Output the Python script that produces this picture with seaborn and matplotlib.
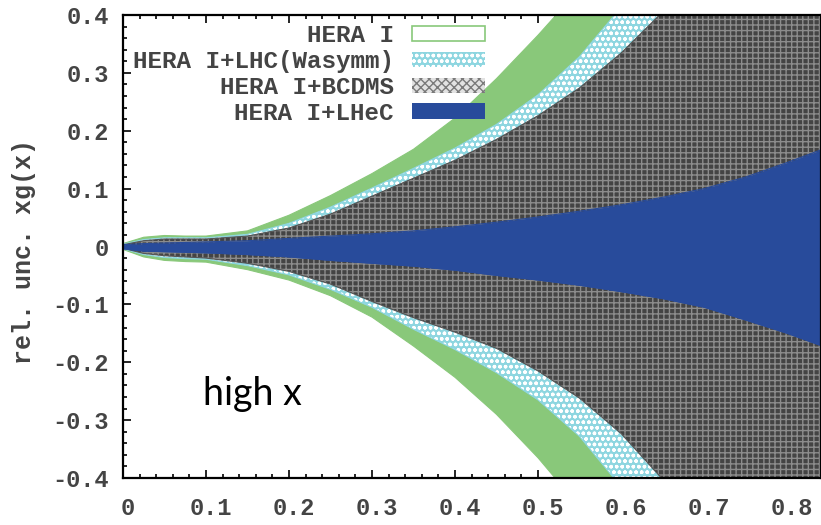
import numpy as np
import pandas as pd
import matplotlib
matplotlib.use("Agg")
import matplotlib.pyplot as plt
import matplotlib.transforms as mtransforms
import seaborn as sns
from matplotlib.patches import Patch
from matplotlib.ticker import MultipleLocator, FixedLocator, FixedFormatter

# momentum fraction x
x = [0.0, 0.025, 0.05, 0.075, 0.1, 0.15, 0.2, 0.25, 0.3, 0.35, 0.4,
     0.45, 0.5, 0.55, 0.6, 0.65, 0.7, 0.75, 0.8, 0.85]

# relative uncertainty bands of xg(x): upper / lower edges
hera_up = [0.005, 0.016, 0.019, 0.018, 0.018, 0.027, 0.054, 0.088, 0.126, 0.168,
           0.222, 0.29, 0.365, 0.445, 0.53, 0.62, 0.71, 0.81, 0.91, 1.01]
hera_lo = [-0.005, -0.018, -0.024, -0.026, -0.027, -0.04, -0.058, -0.085, -0.122, -0.172,
           -0.226, -0.29, -0.365, -0.45, -0.54, -0.63, -0.72, -0.82, -0.92, -1.02]
lhc_up = [0.004, 0.012, 0.015, 0.015, 0.015, 0.021, 0.04, 0.068, 0.101, 0.135,
          0.17, 0.211, 0.262, 0.328, 0.413, 0.51, 0.61, 0.71, 0.82, 0.93]
lhc_lo = [-0.004, -0.014, -0.019, -0.021, -0.022, -0.033, -0.049, -0.074, -0.105, -0.143,
          -0.178, -0.218, -0.265, -0.328, -0.415, -0.52, -0.62, -0.72, -0.83, -0.94]
bcdms_up = [0.003, 0.010, 0.013, 0.013, 0.013, 0.018, 0.032, 0.056, 0.087, 0.118,
            0.149, 0.185, 0.226, 0.274, 0.334, 0.405, 0.49, 0.58, 0.68, 0.78]
bcdms_lo = [-0.003, -0.012, -0.016, -0.018, -0.02, -0.029, -0.043, -0.065, -0.095, -0.123,
            -0.148, -0.176, -0.215, -0.262, -0.323, -0.402, -0.49, -0.58, -0.68, -0.78]
lhec_up = [0.003, 0.005, 0.006, 0.007, 0.008, 0.01, 0.014, 0.018, 0.022, 0.027,
           0.034, 0.042, 0.051, 0.061, 0.072, 0.085, 0.1, 0.12, 0.145, 0.172]
lhec_lo = [-0.004, -0.008, -0.009, -0.010, -0.011, -0.014, -0.018, -0.024, -0.029, -0.034,
           -0.041, -0.05, -0.058, -0.067, -0.078, -0.09, -0.105, -0.127, -0.15, -0.176]

labels = ["HERA I", "HERA I+LHC(Wasymm)", "HERA I+BCDMS", "HERA I+LHeC"]

x_ticks = [0.0, 0.1, 0.2, 0.3, 0.4, 0.5, 0.6, 0.7, 0.8]
x_tick_labels = ["0", "0.1", "0.2", "0.3", "0.4", "0.5", "0.6", "0.7", "0.8"]
y_ticks = [-0.4, -0.3, -0.2, -0.1, 0.0, 0.1, 0.2, 0.3, 0.4]
y_tick_labels = ["-0.4", "-0.3", "-0.2", "-0.1", "0", "0.1", "0.2", "0.3", "0.4"]

sns.set_theme(style="ticks")
plt.rcParams.update({
    "font.family": ["Liberation Mono", "DejaVu Sans"],
    "font.weight": "bold",
    "axes.unicode_minus": False,
    "hatch.linewidth": 1.0,
    "axes.linewidth": 1.6,
    "axes.edgecolor": "black",
})

# long-form table of band edges
frames = []
for name, up, lo in zip(labels, [hera_up, lhc_up, bcdms_up, lhec_up],
                        [hera_lo, lhc_lo, bcdms_lo, lhec_lo]):
    frames.append(pd.DataFrame({"x": x, "up": up, "lo": lo, "set": name}))
df = pd.concat(frames, ignore_index=True)

GREEN = "#89c87a"
CYAN = "#8ed6e0"
GRAY = "#444444"
BLUE = "#284b9b"
TEXT = "#444444"

styles = {
    "HERA I": dict(facecolor=GREEN, edgecolor=GREEN, hatch=None, line=GREEN),
    "HERA I+LHC(Wasymm)": dict(facecolor=CYAN, edgecolor="white", hatch="ooo", line=CYAN),
    "HERA I+BCDMS": dict(facecolor=GRAY, edgecolor="#8c8c8c", hatch="+++", line="#555555"),
    "HERA I+LHeC": dict(facecolor=BLUE, edgecolor=BLUE, hatch=None, line=BLUE),
}

fig = plt.figure(figsize=(8.21, 5.25), dpi=100)
ax = fig.add_axes([123 / 821, 47 / 525, 698 / 821, 463 / 525])

for z, name in enumerate(labels):
    d = df[df["set"] == name]
    st = styles[name]
    ax.fill_between(d["x"], d["lo"], d["up"], facecolor=st["facecolor"],
                    edgecolor=st["edgecolor"], hatch=st["hatch"], linewidth=0,
                    zorder=1 + z)
    sns.lineplot(data=d, x="x", y="up", color=st["line"], lw=0.8, ax=ax,
                 zorder=1 + z + 0.5)
    sns.lineplot(data=d, x="x", y="lo", color=st["line"], lw=0.8, ax=ax,
                 zorder=1 + z + 0.5)

ax.set_xlim(0, 0.841)
ax.set_ylim(-0.4, 0.4)
ax.xaxis.set_major_locator(FixedLocator(x_ticks))
ax.xaxis.set_major_formatter(FixedFormatter(x_tick_labels))
ax.yaxis.set_major_locator(FixedLocator(y_ticks))
ax.yaxis.set_major_formatter(FixedFormatter(y_tick_labels))
ax.xaxis.set_minor_locator(MultipleLocator(0.02))
ax.yaxis.set_minor_locator(MultipleLocator(0.02))
ax.tick_params(which="both", direction="in", top=True, right=True,
               color="black", width=1.2, labelsize=17, labelcolor=TEXT)
ax.tick_params(axis="y", pad=10)
ax.tick_params(axis="x", pad=14)
ax.tick_params(which="major", length=6)
ax.tick_params(which="minor", length=3)
# x tick labels sit slightly right of their ticks
shift = mtransforms.ScaledTranslation(5 / 100, 0, fig.dpi_scale_trans)
for lab in ax.get_xticklabels():
    lab.set_transform(lab.get_transform() + shift)

ax.set_xlabel("")
ax.set_ylabel("rel. unc. xg(x)", fontsize=18, color=TEXT, fontweight="bold")
ax.yaxis.set_label_coords(-0.125, 0.49)
for s in ax.spines.values():
    s.set_zorder(10)

handles = [
    Patch(facecolor="white", edgecolor=GREEN, linewidth=1.2),
    Patch(facecolor=CYAN, edgecolor="white", hatch="ooo", linewidth=0),
    Patch(facecolor="#e2e2e2", edgecolor="#7a7a7a", hatch="xxxx", linewidth=0),
    Patch(facecolor=BLUE, edgecolor=BLUE, linewidth=0),
]
leg = ax.legend(handles, labels, loc="upper right",
                bbox_to_anchor=((485 - 123) / 698, (478 - 24) / 463),
                frameon=False, markerfirst=False,
                prop={"size": 17.5, "weight": "bold"},
                handlelength=3.0, handleheight=0.6, handletextpad=0.75,
                labelspacing=0.12, borderaxespad=0, borderpad=0)
for t in leg.get_texts():
    t.set_color(TEXT)
leg.set_zorder(20)

ax.text(0.115, 0.158, "high x", transform=ax.transAxes, fontsize=27,
        family=["Lato", "DejaVu Sans"], fontweight="normal", color="black",
        va="baseline", ha="left", zorder=20)

fig.savefig("out.png", dpi=100, facecolor="white")
